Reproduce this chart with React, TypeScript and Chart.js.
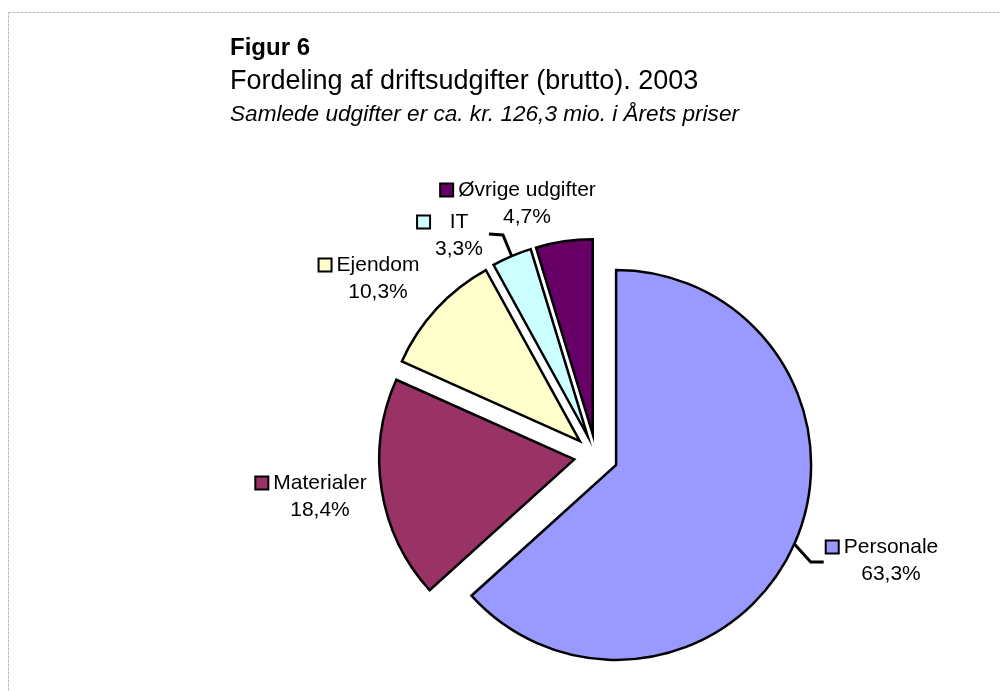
import React, { useEffect, useRef } from 'react';
import { Chart, registerables } from 'chart.js';

Chart.register(...registerables);

// ---- data ----
const categories = ['Personale', 'Materialer', 'Ejendom', 'IT', 'Øvrige udgifter'];
const shares = [63.3, 18.4, 10.3, 3.3, 4.7];
const sliceColors = ['#9999FF', '#993366', '#FFFFCC', '#CCFFFF', '#660066'];

const figureText = 'Figur 6';
const titleText = 'Fordeling af driftsudgifter (brutto). 2003';
const subtitleText = 'Samlede udgifter er ca. kr. 126,3 mio. i Årets priser';

// ---- layout ----
const W = 1000;
const H = 691;
const EXPLODE = 22;
const RADIUS = 195;
const FONT = '"Liberation Sans", Arial, sans-serif';
// label text-block centres relative to the pie centre
const labelOffsets = [
  [295, 104],
  [-276, 40],
  [-218, -178],
  [-137, -221],
  [-69, -253],
];
const leaderSides = ['left', null, null, 'right', null];

const fmtPct = (v: number) => v.toFixed(1).replace('.', ',') + '%';

const frameBorder = {
  id: 'frameBorder',
  beforeDraw(chart: any) {
    const ctx = chart.ctx;
    ctx.save();
    ctx.strokeStyle = '#b8b8b8';
    ctx.lineWidth = 1;
    ctx.setLineDash([3, 1]);
    ctx.strokeRect(8.5, 12.5, W + 20, H + 20);
    ctx.restore();

    ctx.save();
    ctx.fillStyle = '#000';
    ctx.textAlign = 'left';
    ctx.textBaseline = 'alphabetic';
    ctx.font = `bold 24px ${FONT}`;
    ctx.fillText(figureText, 230, 55);
    ctx.font = `27px ${FONT}`;
    ctx.fillText(titleText, 230, 89);
    ctx.font = `italic 22.6px ${FONT}`;
    ctx.fillText(subtitleText, 230, 121);
    ctx.restore();
  },
};

const explodeSlices = {
  id: 'explodeSlices',
  beforeDatasetDraw(chart: any, args: any) {
    const ctx = chart.ctx;
    args.meta.data.forEach((arc: any) => {
      const mid = (arc.startAngle + arc.endAngle) / 2;
      ctx.save();
      ctx.translate(Math.cos(mid) * EXPLODE, Math.sin(mid) * EXPLODE);
      arc.draw(ctx);
      ctx.restore();
    });
    return false;
  },
};

const sliceLabels = {
  id: 'sliceLabels',
  afterDatasetsDraw(chart: any) {
    const ctx = chart.ctx;
    const meta = chart.getDatasetMeta(0);
    const values = chart.data.datasets[0].data as number[];
    const total = values.reduce((a, b) => a + b, 0);
    ctx.save();
    ctx.font = `21px ${FONT}`;
    meta.data.forEach((arc: any, i: number) => {
      const cx = arc.x;
      const cy = arc.y;
      const bx = cx + labelOffsets[i][0];
      const by = cy + labelOffsets[i][1];
      const name = chart.data.labels[i];
      const pct = fmtPct((values[i] / total) * 100);
      const wName = ctx.measureText(name).width;
      const wPct = ctx.measureText(pct).width;
      const boxW = Math.max(wName, wPct);
      const boxL = bx - boxW / 2;
      const boxR = bx + boxW / 2;
      const y1 = by - 13;
      const y2 = by + 14;

      ctx.fillStyle = '#000';
      ctx.textAlign = 'center';
      ctx.textBaseline = 'middle';
      ctx.fillText(name, bx, y1);
      ctx.fillText(pct, bx, y2);

      // legend key
      const ks = 13;
      const kx = boxL - 5 - ks;
      const ky = y1 - ks / 2;
      ctx.fillStyle = arc.options.backgroundColor;
      ctx.fillRect(kx, ky, ks, ks);
      ctx.lineWidth = 2;
      ctx.strokeStyle = '#000';
      ctx.strokeRect(kx, ky, ks, ks);

      const side = leaderSides[i];
      if (side) {
        const mid = (arc.startAngle + arc.endAngle) / 2;
        const r = arc.outerRadius;
        const p0x = cx + Math.cos(mid) * (EXPLODE + r);
        const p0y = cy + Math.sin(mid) * (EXPLODE + r);
        let p1x: number, p1y: number, p2x: number, p2y: number;
        if (side === 'left') {
          p2x = kx - 2;
          p2y = by + 2;
          p1x = p2x - 13;
          p1y = p2y;
        } else {
          p2x = boxR + 6;
          p2y = by - 1;
          p1x = p2x + 14;
          p1y = p2y + 1;
        }
        ctx.beginPath();
        ctx.moveTo(p0x, p0y);
        ctx.lineTo(p1x, p1y);
        ctx.lineTo(p2x, p2y);
        ctx.lineWidth = 3;
        ctx.lineJoin = 'miter';
        ctx.strokeStyle = '#000';
        ctx.stroke();
      }
    });
    ctx.restore();
  },
};

export default function App() {
  const ref = useRef<HTMLCanvasElement | null>(null);

  useEffect(() => {
    if (!ref.current) return;
    const chart = new Chart(ref.current, {
      type: 'pie',
      data: {
        labels: categories,
        datasets: [
          {
            data: shares,
            backgroundColor: sliceColors,
            borderColor: '#000000',
            borderWidth: 2.5,
            borderJoinStyle: 'miter',
            radius: RADIUS,
          } as any,
        ],
      },
      options: {
        responsive: false,
        animation: false,
        events: [],
        radius: RADIUS,
        layout: { padding: { left: 392, right: 200, top: 261, bottom: 40 } },
        plugins: {
          legend: { display: false },
          tooltip: { enabled: false },
          title: { display: false },
        },
      } as any,
      plugins: [frameBorder, explodeSlices, sliceLabels],
    });
    return () => chart.destroy();
  }, []);

  return (
    <div style={{ position: 'absolute', left: 0, top: 0, width: W, height: H, background: '#fff' }}>
      <canvas ref={ref} width={W} height={H} style={{ display: 'block', width: W, height: H }} />
    </div>
  );
}
